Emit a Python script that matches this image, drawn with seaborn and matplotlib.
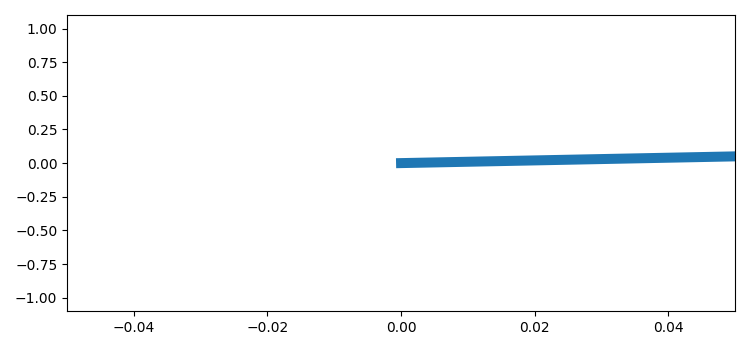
import matplotlib
matplotlib.use("Agg")
import matplotlib.pyplot as plt
import seaborn as sns
import pandas as pd

x_vals = [0.0, 0.05, 0.1]
y_vals = [0.0, 0.05, 0.1]

df = pd.DataFrame({"x": x_vals, "y": y_vals})

fig, ax = plt.subplots(figsize=(7.5, 3.5), dpi=100)
fig.subplots_adjust(left=0.0895, right=0.98, top=0.957, bottom=0.111)
sns.lineplot(data=df, x="x", y="y", ax=ax, color="#1f77b4", linewidth=7.2, sort=False)
ax.set_xlim(-0.05, 0.05)
ax.set_ylim(-1.1, 1.1)
ax.set_xlabel("")
ax.set_ylabel("")
ax.set_xticks([-0.04, -0.02, 0.0, 0.02, 0.04])
ax.set_yticks([-1.0, -0.75, -0.5, -0.25, 0.0, 0.25, 0.5, 0.75, 1.0])
fig.savefig("out.png", dpi=100)
